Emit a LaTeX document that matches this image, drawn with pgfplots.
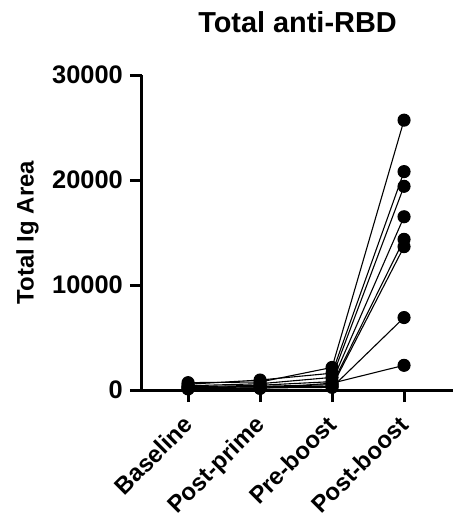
\documentclass[border=0pt]{standalone}
\usepackage{fontspec}
\setmainfont{Liberation Sans}
\usepackage{pgfplots}
\pgfplotsset{compat=1.18}
\begin{document}
\begin{tikzpicture}
\begin{axis}[
  scale only axis,
  width=311bp, height=315bp,
  xmin=-0.64, xmax=3.68,
  ymin=0, ymax=30000,
  clip=false,
  axis x line=bottom, axis y line=left,
  axis line style={-, line width=3bp, black},
  every tick/.style={line width=3bp, black},
  tick align=outside,
  major tick length=12bp,
  xtick={0,1,2,3},
  xticklabels={Baseline,Post-prime,Pre-boost,Post-boost},
  ytick={0,10000,20000,30000},
  yticklabels={0,10000,20000,30000},
  scaled y ticks=false,
  yticklabel style={font=\fontsize{25.5}{27}\selectfont\bfseries, inner sep=2pt, xshift=-5bp},
  xticklabel style={font=\fontsize{24}{26}\selectfont\bfseries, rotate=45, anchor=north east, inner sep=1pt, xshift=-12bp, yshift=-3bp},
  ylabel={Total Ig Area},
  ylabel style={font=\fontsize{24}{26}\selectfont\bfseries, yshift=8bp},
  title={Total anti-RBD},
  title style={font=\fontsize{29}{31}\selectfont\bfseries, yshift=33bp},
]
\addplot[black, line width=1.1bp, mark=*, mark size=6bp, mark options={solid, fill=black}] coordinates {(0,700) (1,760) (2,2150) (3,25700)};
\addplot[black, line width=1.1bp, mark=*, mark size=6bp, mark options={solid, fill=black}] coordinates {(0,550) (1,950) (2,1600) (3,20800)};
\addplot[black, line width=1.1bp, mark=*, mark size=6bp, mark options={solid, fill=black}] coordinates {(0,400) (1,600) (2,1200) (3,19400)};
\addplot[black, line width=1.1bp, mark=*, mark size=6bp, mark options={solid, fill=black}] coordinates {(0,300) (1,450) (2,800) (3,16500)};
\addplot[black, line width=1.1bp, mark=*, mark size=6bp, mark options={solid, fill=black}] coordinates {(0,250) (1,350) (2,500) (3,14350)};
\addplot[black, line width=1.1bp, mark=*, mark size=6bp, mark options={solid, fill=black}] coordinates {(0,200) (1,300) (2,350) (3,13650)};
\addplot[black, line width=1.1bp, mark=*, mark size=6bp, mark options={solid, fill=black}] coordinates {(0,150) (1,200) (2,250) (3,6900)};
\addplot[black, line width=1.1bp, mark=*, mark size=6bp, mark options={solid, fill=black}] coordinates {(0,100) (1,150) (2,650) (3,2350)};
\end{axis}
\pgfresetboundingbox
\path (-142bp,-125bp) rectangle (321bp,390bp);
\end{tikzpicture}
\end{document}
